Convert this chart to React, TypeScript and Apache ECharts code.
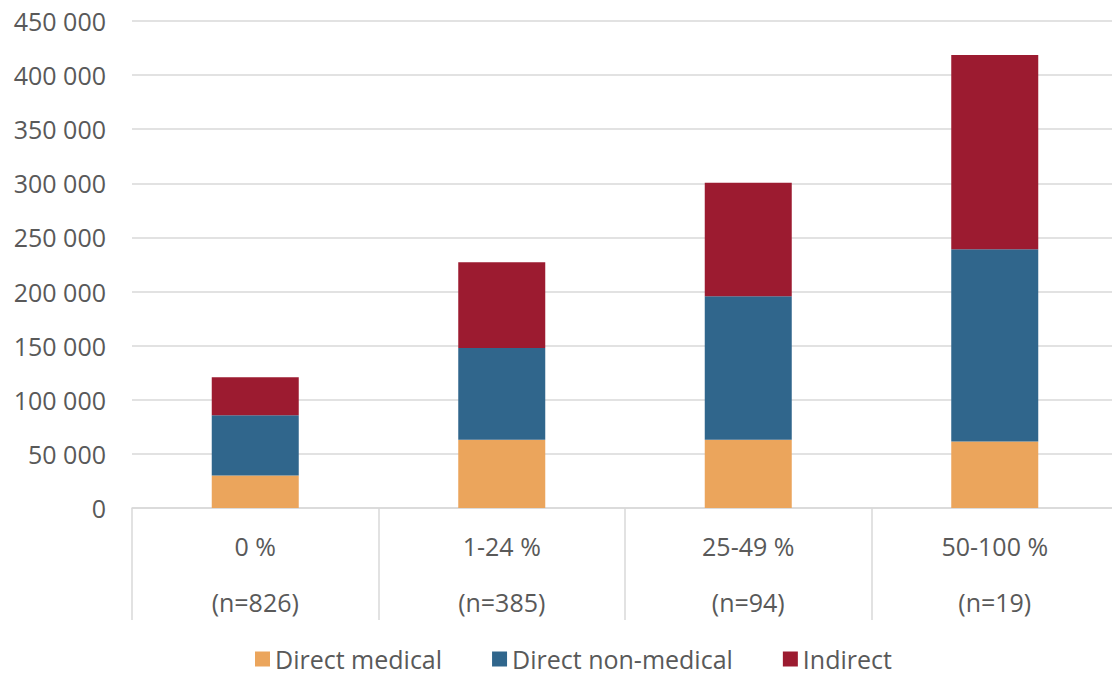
import React, { useEffect, useRef } from "react";
import * as echarts from "echarts";

const categories = ["0 %", "1-24 %", "25-49 %", "50-100 %"];
const sampleSizes = ["(n=826)", "(n=385)", "(n=94)", "(n=19)"];
const directMedical = [30000, 63000, 63000, 61500];
const directNonMedical = [55700, 84900, 132700, 177700];
const indirect = [35100, 79100, 104800, 179300];
const seriesNames = ["Direct medical", "Direct non-medical", "Indirect"];
const colors = ["#EBA55C", "#30668C", "#9C1B30"];

const FONT = "'Open Sans', sans-serif";
const TEXT = "#595959";

export default function App() {
  const ref = useRef<HTMLDivElement>(null);
  useEffect(() => {
    if (!ref.current) return;
    const chart = echarts.init(ref.current, null, { renderer: "svg" });
    const labels = categories.map((c, i) => `${c}\n${sampleSizes[i]}`);
    const data = [directMedical, directNonMedical, indirect];
    chart.setOption({
      animation: false,
      textStyle: { fontFamily: FONT },
      grid: { left: 132, top: 21, width: 986, height: 487, containLabel: false },
      legend: {
        top: 645,
        left: 250,
        padding: [0, 5],
        itemWidth: 15,
        itemHeight: 15,
        itemGap: 50,
        icon: "rect",
        textStyle: { color: TEXT, fontSize: 25, lineHeight: 28, fontFamily: FONT },
        data: seriesNames,
      },
      xAxis: {
        type: "category",
        data: labels,
        axisLine: { lineStyle: { color: "#D9D9D9", width: 1.5 } },
        axisTick: { show: true, length: 112, alignWithLabel: false, lineStyle: { color: "#D9D9D9", width: 1.5 } },
        axisLabel: {
          color: TEXT,
          fontSize: 25,
          fontFamily: FONT,
          lineHeight: 56,
          margin: 10,
          interval: 0,
        },
      },
      yAxis: {
        type: "value",
        min: 0,
        max: 450000,
        interval: 50000,
        axisLine: { show: false },
        axisTick: { show: false },
        splitLine: { lineStyle: { color: "#D9D9D9", width: 1.5 } },
        axisLabel: {
          color: TEXT,
          fontSize: 25,
          fontFamily: FONT,
          margin: 26,
          formatter: (v: number) => String(v).replace(/\B(?=(\d{3})+(?!\d))/g, " "),
        },
      },
      series: seriesNames.map((name, i) => ({
        name,
        type: "bar",
        stack: "total",
        barWidth: 87,
        itemStyle: { color: colors[i] },
        data: data[i],
      })),
    });
    return () => chart.dispose();
  }, []);
  return (
    <div style={{ position: "fixed", left: 0, top: 0, width: 1112, height: 677, overflow: "hidden", background: "#fff" }}>
      <div ref={ref} style={{ width: 1124, height: 677 }} />
    </div>
  );
}
